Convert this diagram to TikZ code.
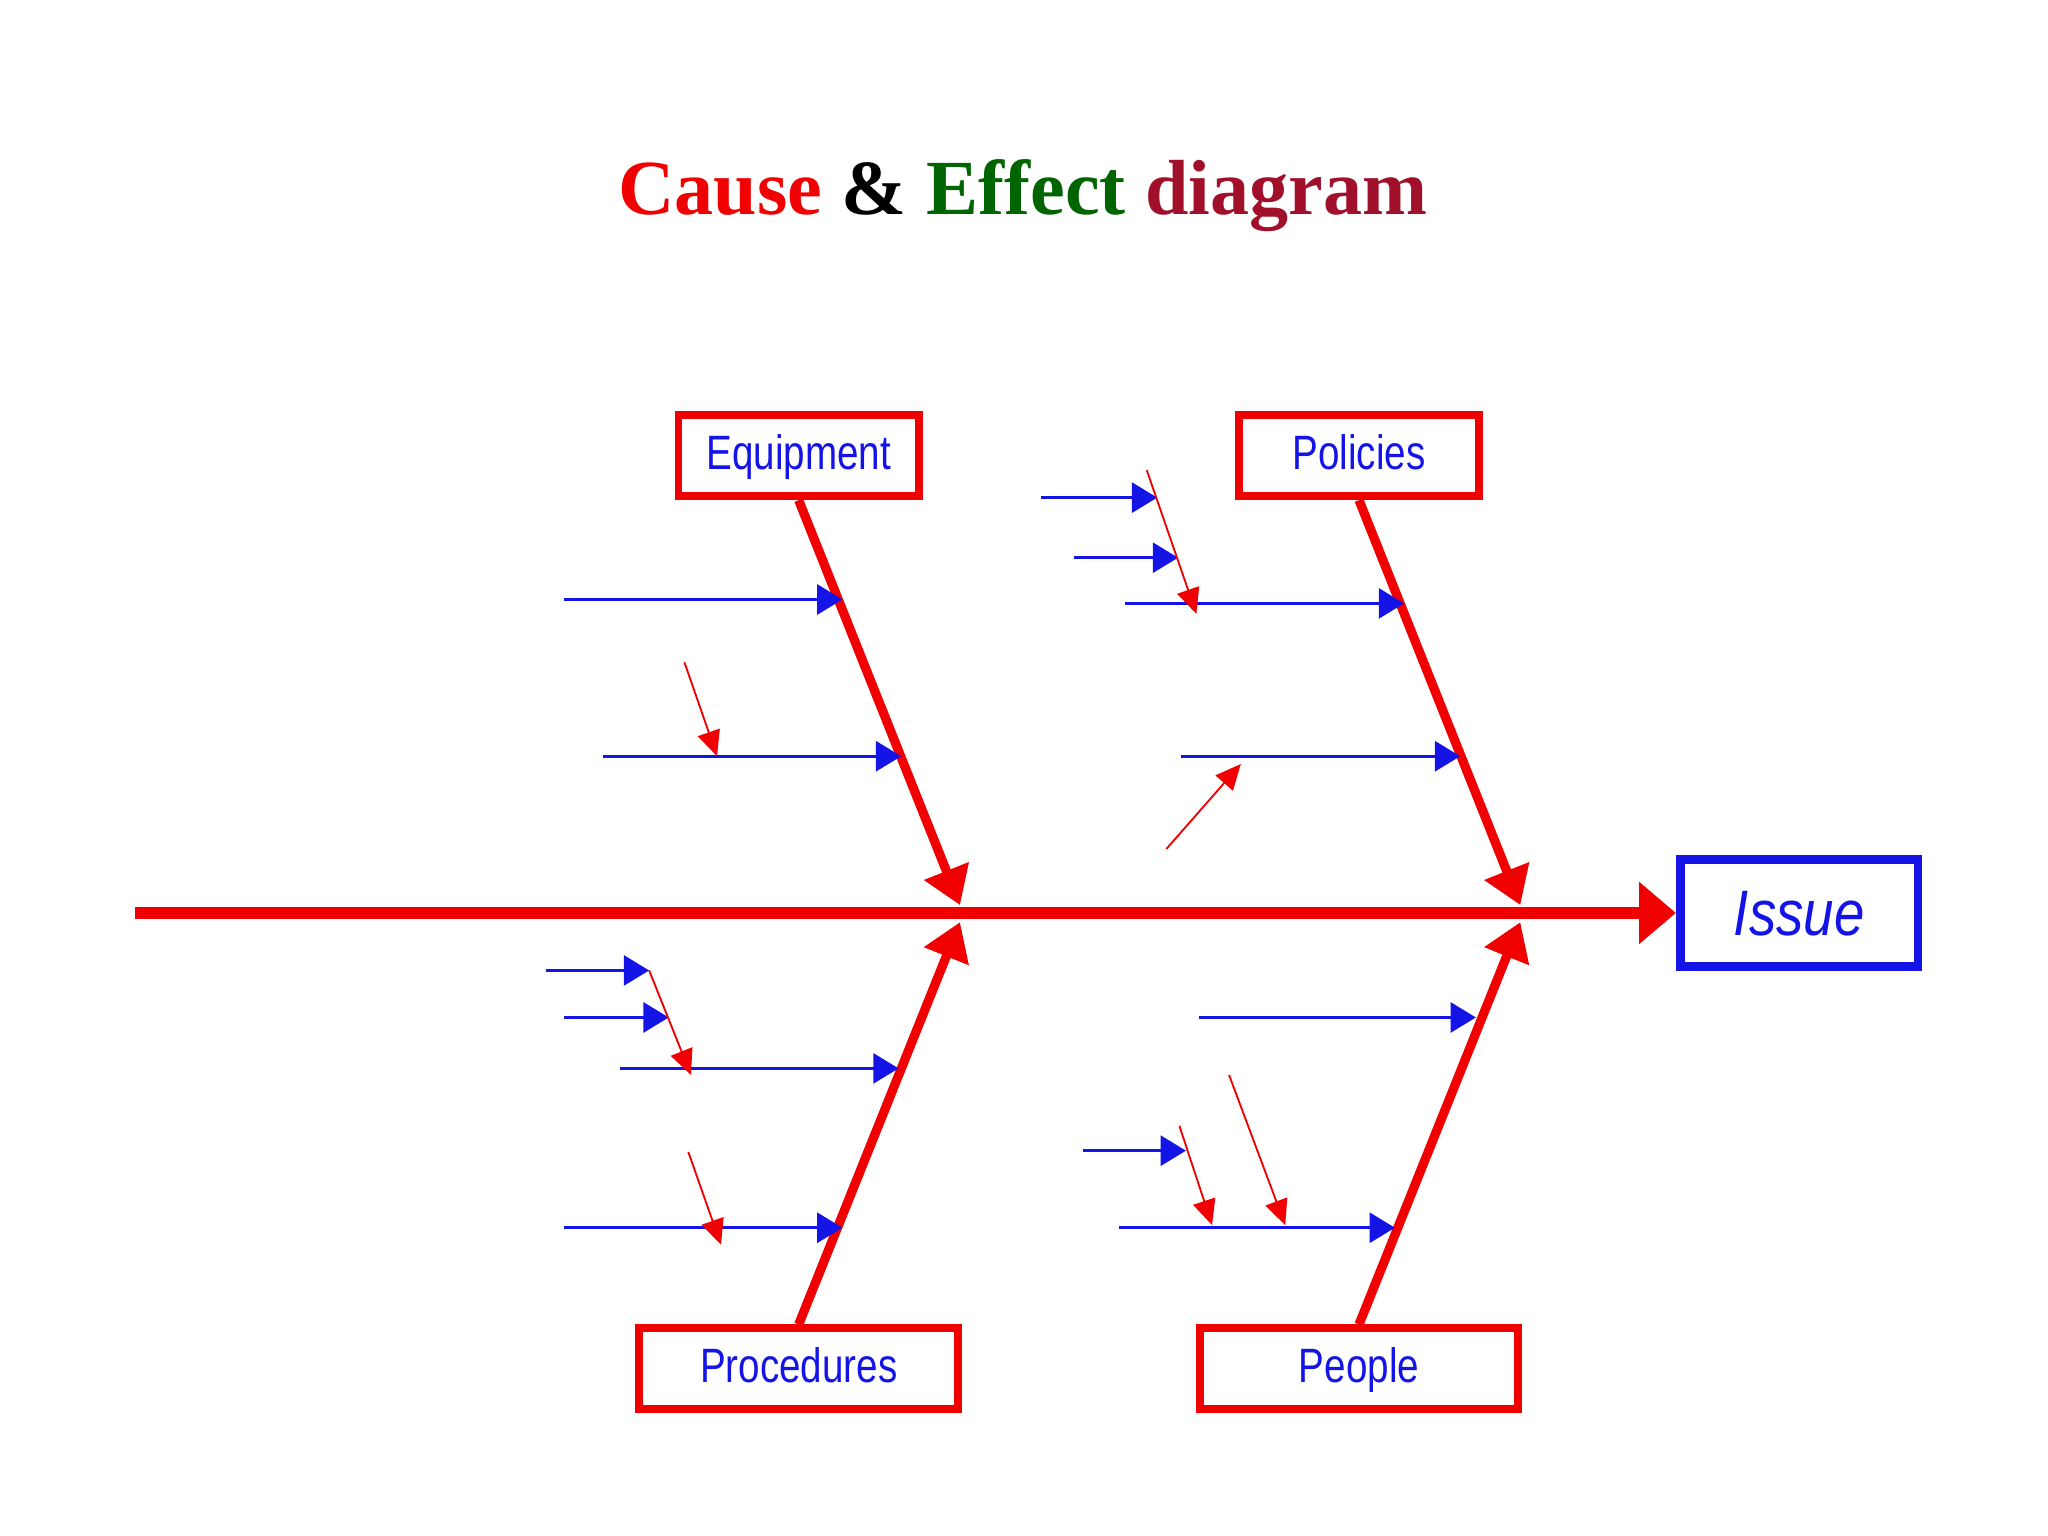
\documentclass[tikz,border=0pt]{standalone}
\usepackage{fontspec}
\setmainfont{Liberation Serif}
\newfontfamily\lbl{Liberation Sans}
\usetikzlibrary{arrows.meta}
\definecolor{ered}{RGB}{240,0,0}
\definecolor{eblue}{RGB}{20,20,230}
\definecolor{egreen}{RGB}{0,100,0}
\definecolor{edred}{RGB}{160,16,42}
\begin{document}
\begin{tikzpicture}[x=0.01cm,y=-0.01cm,
  box/.style={draw=ered,line width=1.7pt,text=eblue,font=\lbl\fontsize{10.5}{12}\selectfont,inner sep=0pt,text height=8pt,text depth=2pt},
  bone/.style={draw=ered,line width=2pt,-{Triangle[length=8pt,width=10pt]}},
  barr/.style={draw=eblue,line width=0.7pt,-{Triangle[length=5.5pt,width=6.5pt]}},
  rarr/.style={draw=ered,line width=0.4pt,-{Triangle[length=5.5pt,width=5pt]}}]
\useasboundingbox (0,0) rectangle (1568,1176);
\node[font=\bfseries\fontsize{17}{20}\selectfont] (title) at (783,150) {\textcolor{ered}{Cause} \& \textcolor{egreen}{Effect} \textcolor{edred}{diagram}};
\node[box,minimum width=184*0.01cm,minimum height=62*0.01cm] (eq) at (611.5,349) {\scalebox{0.8}[1]{Equipment}};
\node[box,minimum width=184*0.01cm,minimum height=62*0.01cm] (po) at (1040.5,349) {\scalebox{0.8}[1]{Policies}};
\node[box,minimum width=244*0.01cm,minimum height=62*0.01cm] (pr) at (611.5,1048) {\scalebox{0.8}[1]{Procedures}};
\node[box,minimum width=244*0.01cm,minimum height=62*0.01cm] (pe) at (1040.5,1048) {\scalebox{0.8}[1]{People}};
\node[box,draw=eblue,line width=1.9pt,minimum width=182*0.01cm,minimum height=82*0.01cm,font=\lbl\itshape\fontsize{14}{16}\selectfont,text height=10pt,text depth=0pt] (is) at (1377.5,699) {\scalebox{0.85}[1]{Issue}};
\coordinate (s0) at (103,699);
\draw[bone,line width=2.5pt,-{Triangle[length=8pt,width=13pt]}] (s0) -- (is.west);
\coordinate (j1a) at (735,693); \coordinate (j1b) at (735,706);
\coordinate (j2a) at (1164,693); \coordinate (j2b) at (1164,706);
\draw[bone] (eq.south) -- (j1a);
\draw[bone] (po.south) -- (j2a);
\draw[bone] (pr.north) -- (j1b);
\draw[bone] (pe.north) -- (j2b);
\foreach \a/\b/\c in {432/645/459,462/690/579,797/886/381,822/902/427,861/1075/462,904/1118/579,418/497/743,432/512/779,475/688/818,432/645/940,918/1130/779,829/908/881,857/1068/940}{
  \coordinate (ba) at (\a,\c); \coordinate (bb) at (\b,\c);
  \draw[barr] (ba) -- (bb);}
\foreach \a/\b/\c/\d in {524/507/549/579,878/360/916/470,893/650/950/585,497/743/529/823,527/882/552/953,903/862/928/938,941/823/984/938}{
  \coordinate (ra) at (\a,\b); \coordinate (rb) at (\c,\d);
  \draw[rarr] (ra) -- (rb);}
\end{tikzpicture}
\end{document}
